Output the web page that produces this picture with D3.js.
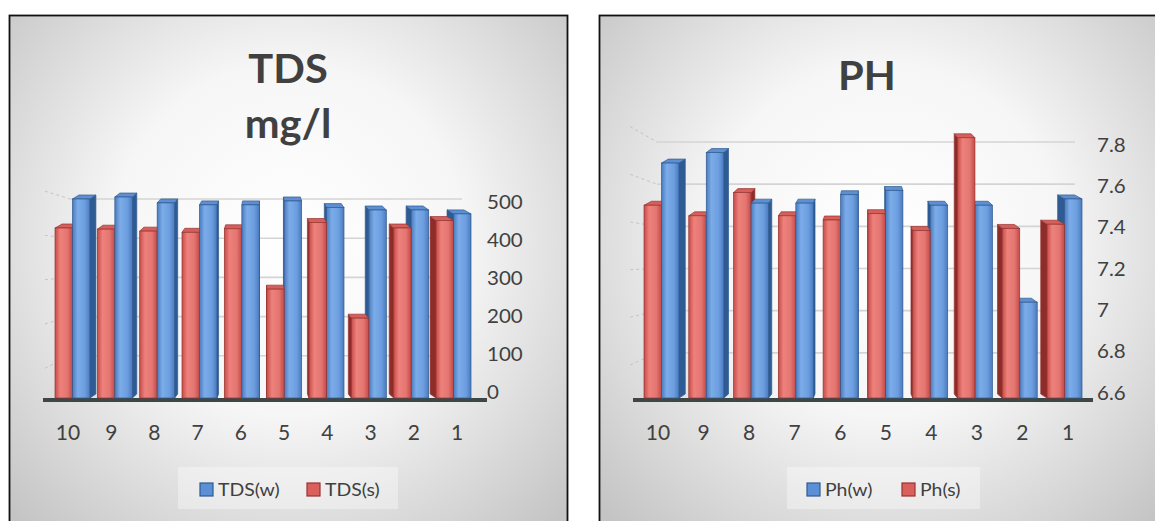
<!DOCTYPE html>
<html>
<head>
<meta charset="utf-8">
<script src="https://cdn.jsdelivr.net/npm/d3@7"></script>
<style>
  html, body { margin: 0; padding: 0; background: #ffffff; }
  svg { display: block; }
  text { font-family: Lato, "Open Sans", sans-serif; fill: #404040; }
</style>
</head>
<body>
<svg id="chart" width="1155" height="521"></svg>
<script>
// Sample points, shown from 10 down to 1
const categories = ["10", "9", "8", "7", "6", "5", "4", "3", "2", "1"];

// Total dissolved solids (mg/l)
const tdsW = [500, 505, 490, 485, 485, 495, 478, 472, 472, 462];
const tdsS = [426, 423, 418, 415, 424, 270, 440, 196, 426, 445];
const tdsTicks = [0, 100, 200, 300, 400, 500];

// pH
const phW = [7.70, 7.75, 7.51, 7.51, 7.55, 7.57, 7.50, 7.50, 7.04, 7.53];
const phS = [7.50, 7.45, 7.56, 7.45, 7.43, 7.46, 7.38, 7.82, 7.39, 7.41];
const phTicks = [6.6, 6.8, 7, 7.2, 7.4, 7.6, 7.8];

const seriesNames = { tds: ["TDS(w)", "TDS(s)"], ph: ["Ph(w)", "Ph(s)"] };

const svg = d3.select("#chart");
const defs = svg.append("defs");

// Face gradients for the 3-D columns
function hGrad(id, stops) {
  const g = defs.append("linearGradient").attr("id", id)
    .attr("x1", 0).attr("x2", 1).attr("y1", 0).attr("y2", 0);
  stops.forEach(([o, c]) => g.append("stop").attr("offset", o).attr("stop-color", c));
}
hGrad("blueFront", [[0, "#4a7bbf"], [0.3, "#7cace8"], [0.7, "#6c9ee0"], [1, "#4a7bbf"]]);
hGrad("redFront", [[0, "#c64c48"], [0.3, "#ee817c"], [0.7, "#e47672"], [1, "#c44a46"]]);

const style = {
  w: { front: "url(#blueFront)", side: "#2f5b95", top: "#5d8fd2", stroke: "#2f5a8f" },
  s: { front: "url(#redFront)", side: "#8e2c29", top: "#d45f5b", stroke: "#983330" }
};

// Text that may be widened horizontally
function label(g, x, y, txt, size, opts = {}) {
  const sx = opts.sx || 1;
  return g.append("text")
    .attr("transform", `translate(${x},${y}) scale(${sx},1)`)
    .attr("text-anchor", opts.anchor || "middle")
    .attr("font-size", size)
    .attr("font-weight", opts.weight || "normal")
    .text(txt);
}

function drawPanel(cfg) {
  const g = svg.append("g");

  // panel background
  const gid = "bg" + cfg.key;
  const rg = defs.append("radialGradient").attr("id", gid)
    .attr("gradientUnits", "userSpaceOnUse")
    .attr("cx", (cfg.px0 + cfg.px1) / 2).attr("cy", 240).attr("r", 390);
  rg.append("stop").attr("offset", 0).attr("stop-color", "#ffffff");
  rg.append("stop").attr("offset", 0.45).attr("stop-color", "#f6f6f6");
  rg.append("stop").attr("offset", 1).attr("stop-color", "#c4c4c4");
  g.append("rect")
    .attr("x", cfg.px0).attr("y", 15.5)
    .attr("width", cfg.px1 - cfg.px0).attr("height", 520)
    .attr("fill", `url(#${gid})`)
    .attr("stroke", "#111").attr("stroke-width", 1.8);

  // title
  cfg.title.forEach((t, i) =>
    label(g, cfg.titleX, cfg.titleY[i], t, 40, { weight: "bold", sx: 1.04 }));

  // scales
  const xCluster = d3.scalePoint().domain(categories).range(cfg.clusterRange);
  const xLabel = d3.scalePoint().domain(categories).range(cfg.labelRange);
  const y = d3.scaleLinear().domain(cfg.domain).range([395, cfg.topY]);
  const yAxis = d3.scaleLinear().domain(cfg.domain).range([cfg.axisBottom, cfg.axisTop]);
  const vx = d3.mean(cfg.clusterRange);
  const vy = 260;
  const depth = 0.034;

  // back-wall gridlines and their short side-wall continuations
  const wallX0 = cfg.wallRange[0], wallX1 = cfg.wallRange[1];
  cfg.ticks.slice(1).forEach(v => {
    const yy = y(v);
    g.append("line")
      .attr("x1", wallX0).attr("x2", wallX1).attr("y1", yy).attr("y2", yy)
      .attr("stroke", "#d4d4d4").attr("stroke-width", 1.6);
    const fx = vx + (wallX0 - vx) * 1.13, fy = vy + (yy - vy) * 1.13;
    g.append("line")
      .attr("x1", fx).attr("y1", fy).attr("x2", wallX0).attr("y2", yy)
      .attr("stroke", "#b8b8b8").attr("stroke-width", 1)
      .attr("stroke-dasharray", "3,3").attr("opacity", 0.7);
  });

  // axis labels on the right
  cfg.ticks.forEach(v =>
    label(g, cfg.axisX, yAxis(v) + 6.5, cfg.fmt(v), 19, { anchor: "start", sx: 1.08 }));

  // floor
  g.append("rect")
    .attr("x", cfg.floor[0]).attr("y", 398)
    .attr("width", cfg.floor[1] - cfg.floor[0]).attr("height", 4)
    .attr("fill", "#3d4747");

  // 3-D columns
  const fw = 17.5, dt = 4, base = 398;
  function column(x0, value, st) {
    const x1 = x0 + fw, t = y(value);
    const x0b = x0 + (vx - x0) * depth, x1b = x1 + (vx - x1) * depth;
    const c = (x0 + x1) / 2;
    const sw = 0.7;
    if (c < vx) {
      g.append("polygon")
        .attr("points", [[x1, t], [x1b, t - dt], [x1b, base - dt], [x1, base]].join(" "))
        .attr("fill", st.side).attr("stroke", st.stroke).attr("stroke-width", sw);
    } else {
      g.append("polygon")
        .attr("points", [[x0, t], [x0b, t - dt], [x0b, base - dt], [x0, base]].join(" "))
        .attr("fill", st.side).attr("stroke", st.stroke).attr("stroke-width", sw);
    }
    g.append("polygon")
      .attr("points", [[x0, t], [x1, t], [x1b, t - dt], [x0b, t - dt]].join(" "))
      .attr("fill", st.top).attr("stroke", st.stroke).attr("stroke-width", sw);
    g.append("rect")
      .attr("x", x0).attr("y", t).attr("width", fw).attr("height", base - t)
      .attr("fill", st.front).attr("stroke", st.stroke).attr("stroke-width", sw);
  }

  categories.forEach((cat, i) => {
    const cc = xCluster(cat);
    const red = () => column(cc - fw, cfg.s[i], style.s);
    const blue = () => column(cc, cfg.w[i], style.w);
    if (cc < vx) { red(); blue(); } else { blue(); red(); }
  });

  // category labels
  categories.forEach(cat => label(g, xLabel(cat), 440, cat, 21));

  // legend
  const L = cfg.legend;
  g.append("rect")
    .attr("x", L.box[0]).attr("y", 467)
    .attr("width", L.box[1] - L.box[0]).attr("height", 42)
    .attr("fill", "#ffffff").attr("opacity", 0.35);
  [["w", L.items[0]], ["s", L.items[1]]].forEach(([k, x], j) => {
    g.append("rect")
      .attr("x", x).attr("y", 483).attr("width", 13).attr("height", 13)
      .attr("fill", k === "w" ? "#5b8fd6" : "#d9605c")
      .attr("stroke", style[k].stroke).attr("stroke-width", 1.2);
    label(g, x + 18, 496, cfg.names[j], 18, { anchor: "start", sx: 1.08 });
  });
}

drawPanel({
  key: "tds", px0: 9.5, px1: 567.5,
  title: ["TDS", "mg/l"], titleX: 288, titleY: [83, 138],
  domain: [0, 500], topY: 199, axisBottom: 392, axisTop: 202,
  ticks: tdsTicks, fmt: d3.format("d"), axisX: 487,
  clusterRange: [72.5, 453.5], labelRange: [68, 457],
  wallRange: [70, 462], floor: [43, 487],
  w: tdsW, s: tdsS, names: seriesNames.tds,
  legend: { box: [178, 398], items: [200, 307] }
});

drawPanel({
  key: "ph", px0: 599.5, px1: 1170,
  title: ["PH"], titleX: 867, titleY: [90],
  domain: [6.6, 7.8], topY: 142, axisBottom: 393, axisTop: 145,
  ticks: phTicks, fmt: v => String(+v.toFixed(1)), axisX: 1097,
  clusterRange: [661.5, 1064.5], labelRange: [658, 1068],
  wallRange: [657, 1075], floor: [633, 1093],
  w: phW, s: phS, names: seriesNames.ph,
  legend: { box: [787, 980], items: [807, 902] }
});
</script>
</body>
</html>
